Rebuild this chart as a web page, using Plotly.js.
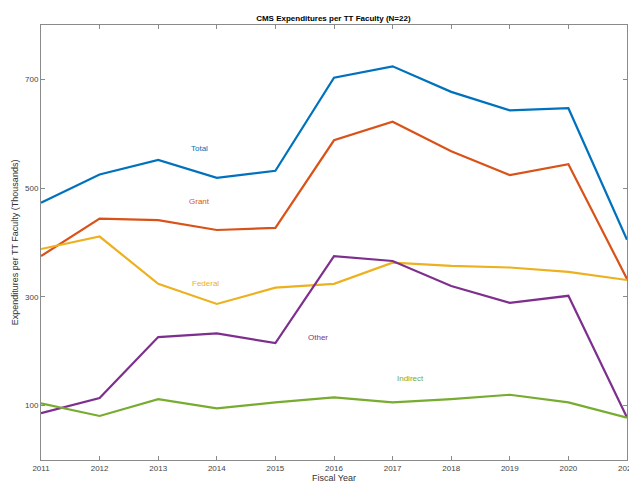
<!DOCTYPE html>
<html>
<head>
<meta charset="utf-8">
<script src="https://cdn.plot.ly/plotly-3.0.1.min.js"></script>
<style>html,body{margin:0;padding:0;background:#fff;}#chart{width:629px;height:485px;}</style>
</head>
<body>
<div id="chart"></div>
<script>
const years = [2011, 2012, 2013, 2014, 2015, 2016, 2017, 2018, 2019, 2020, 2021];
const total    = [473, 525, 552, 519, 532, 703, 724, 677, 643, 647, 405];
const grant    = [375, 444, 441, 423, 427, 588, 622, 568, 524, 544, 333];
const federal  = [388, 411, 324, 287, 317, 324, 363, 357, 354, 346, 331];
const other    = [86, 114, 226, 233, 215, 375, 366, 320, 289, 302, 78];
const indirect = [104, 81, 112, 95, 106, 115, 106, 112, 120, 106, 78];
const seriesNames = ['Total', 'Grant', 'Federal', 'Other', 'Indirect'];
const labelX = [2013.71, 2013.71, 2013.8, 2015.73, 2017.3];
const labelY = [572, 475, 324, 225, 149];
const yTicks = [100, 300, 500, 700];
const xTicks = years;

const colors = ['#0072BD', '#D95319', '#EDB120', '#7E2F8E', '#77AC30'];
const allSeries = [total, grant, federal, other, indirect];

const traces = allSeries.map((s, i) => ({
  x: years, y: s, type: 'scatter', mode: 'lines', name: seriesNames[i],
  line: {color: colors[i], width: 2.2}, hoverinfo: 'skip', cliponaxis: true
}));

const annotations = seriesNames.map((n, i) => ({
  x: labelX[i], y: labelY[i], xref: 'x', yref: 'y', text: n, showarrow: false,
  font: {family: 'Liberation Sans, Arial, sans-serif', size: 8, color: colors[i]}
}));

const axisCommon = {
  showline: true, linecolor: '#8a8a8a', linewidth: 1, mirror: 'allticks',
  ticks: 'inside', ticklen: 4, tickcolor: '#8a8a8a', showgrid: false, zeroline: false,
  tickfont: {family: 'Liberation Sans, Arial, sans-serif', size: 8, color: '#444'},
  automargin: false, ticklabeloverflow: 'allow'
};

const layout = {
  width: 629, height: 485,
  margin: {l: 41, r: 2, t: 25, b: 25},
  paper_bgcolor: '#fff', plot_bgcolor: '#fff',
  showlegend: false,
  title: {text: '<b>CMS Expenditures per TT Faculty (N=22)</b>', x: 0.53, xanchor: 'center', y: 0.963, yanchor: 'middle',
    font: {family: 'Liberation Sans, Arial, sans-serif', size: 8, color: '#000'}},
  xaxis: Object.assign({}, axisCommon, {
    range: [2011, 2021], tickvals: xTicks, ticktext: xTicks.map(String),
    title: {text: 'Fiscal Year', standoff: 2, font: {family: 'Liberation Sans, Arial, sans-serif', size: 9, color: '#333'}}
  }),
  yaxis: Object.assign({}, axisCommon, {
    range: [0, 800], tickvals: yTicks, ticktext: yTicks.map(String),
    title: {text: 'Expenditures per TT Faculty (Thousands)', standoff: 4, font: {family: 'Liberation Sans, Arial, sans-serif', size: 9, color: '#333'}}
  }),
  annotations: annotations
};

Plotly.newPlot('chart', traces, layout, {staticPlot: true, displayModeBar: false});
</script>
</body>
</html>
